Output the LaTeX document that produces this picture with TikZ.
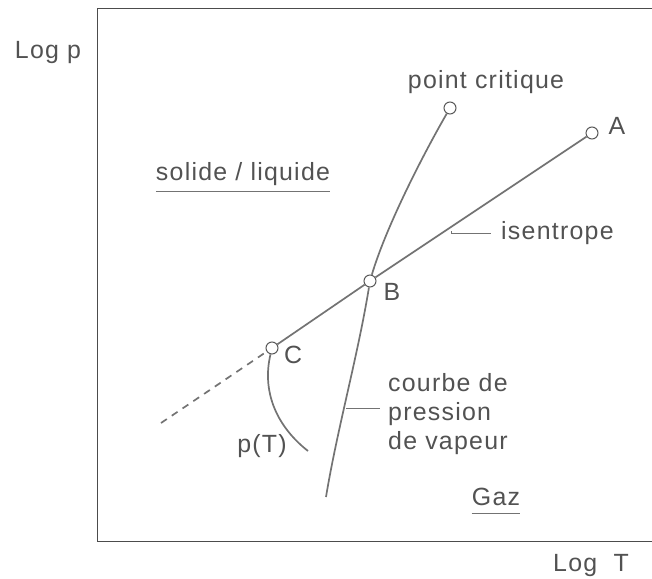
\documentclass[tikz,border=0pt]{standalone}
\usepackage{fontspec}
\setmainfont{Liberation Sans}[LetterSpace=5]
\begin{document}
\begin{tikzpicture}[x=1bp,y=-1bp,
  lbl/.style={text=black!68, font=\fontsize{25}{29}\selectfont, inner sep=0pt},
  curve/.style={draw=black!55, line width=1.7bp},
  pt/.style={circle, draw=black!65, fill=white, line width=1bp, minimum size=12bp, inner sep=0pt},
  lead/.style={draw=black!55, line width=0.8bp},
  frame/.style={draw=black!70, line width=1bp}]
\useasboundingbox (0,0) rectangle (652,579);
% axes frame
\draw[frame] (652,9) -- (97,9) -- (97,541) -- (652,541);
% points
\coordinate (L) at (161,423);
\coordinate (V) at (326,497);
\coordinate (T) at (308,451);
\node[pt] (C) at (272,348) {};
\node[pt] (B) at (370,281) {};
\node[pt] (A) at (592,133) {};
\node[pt] (K) at (450,108) {};
% isentrope
\draw[curve, dash pattern=on 7bp off 6bp] (L) -- (C);
\draw[curve] (C) -- (B);
\draw[curve] (B) -- (A);
% vapour pressure curve
\draw[curve] (K) .. controls (420,160) and (385,230) .. (B);
\draw[curve] (B) .. controls (358,355) and (337,430) .. (V);
% p(T)
\draw[curve] (C) .. controls (262,390) and (275,425) .. (T);
% labels
\node[lbl] (logp) at (48,53) {Log p};
\node[lbl] (logT) at (591,566) {Log\ \ T};
\node[lbl] (sl) at (243,174) {solide / liquide};
\draw[lead] ([yshift=-6bp]sl.south west) -- ([yshift=-6bp]sl.south east);
\node[lbl] (pc) at (486,82) {point critique};
\node[lbl] (lA) at (617,126) {A};
\node[lbl] (lB) at (392,292) {B};
\node[lbl] (lC) at (293,355) {C};
\node[lbl] (pT) at (262,446) {p(T)};
\node[lbl] (gaz) at (496,497) {Gaz};
\draw[lead] ([yshift=-7bp]gaz.south west) -- ([yshift=-7bp]gaz.south east);
\node[lbl, anchor=west] (iso) at (501,233) {isentrope};
\node[lbl, anchor=west, align=left] (courbe) at (388,414) {courbe de\\pression\\de vapeur};
% leaders
\coordinate (ih) at (451,231);
\draw[lead, shorten >=10bp] (ih) |- (iso.west);
\coordinate (cl) at (346,408);
\draw[lead, shorten >=8bp] (cl) -- (cl -| courbe.west);
\end{tikzpicture}
\end{document}
